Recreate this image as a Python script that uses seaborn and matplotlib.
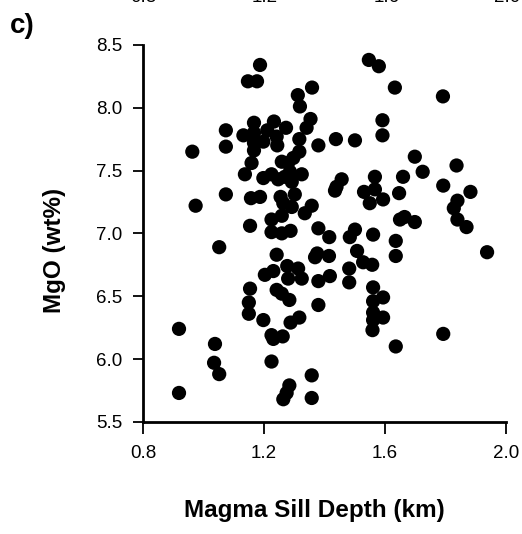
# Диаграмма рассеяния: MgO против глубины магматического силла (панель c)

import pandas as pd
import matplotlib
matplotlib.use("Agg")
import matplotlib.pyplot as plt
import seaborn as sns

# Данные
depth_km = [
    1.187, 1.147, 1.177, 1.547, 1.580, 1.633, 1.312, 1.319, 1.359, 1.792,
    1.233, 1.211, 1.242, 1.273, 1.198, 1.244, 1.354, 1.341, 1.317, 1.380,
    1.438, 1.501, 1.592, 1.592, 1.317, 1.297, 1.280, 1.259, 1.198, 1.225,
    1.247, 1.269, 1.286, 1.292, 1.325, 1.302, 1.255, 1.264, 1.292, 1.358,
    1.335, 1.225, 1.259, 1.225, 1.259, 1.288, 1.380, 1.416, 1.440, 1.457,
    1.435, 1.567, 1.531, 1.567, 1.550, 1.594, 1.501, 1.484, 1.561, 1.699,
    1.725, 1.660, 1.837, 1.647, 1.793, 1.883, 1.840, 1.828, 1.650, 1.665,
    1.699, 1.840, 1.870, 1.636, 1.052, 1.203, 1.154, 1.150, 1.150, 1.198,
    1.225, 1.225, 0.919, 1.038, 1.035, 1.052, 0.919, 1.242, 1.376, 1.369,
    1.415, 1.508, 1.528, 1.558, 1.482, 1.482, 1.231, 1.277, 1.280, 1.313,
    1.325, 1.380, 1.418, 1.242, 1.259, 1.284, 1.380, 1.288, 1.317, 1.231,
    1.262, 1.561, 1.561, 1.594, 1.561, 1.561, 1.559, 1.594, 1.358, 1.284,
    1.275, 1.264, 1.358, 1.636, 1.938, 1.793, 1.636, 1.074, 1.074, 0.963,
    1.132, 1.167, 1.167, 1.167, 1.167, 1.159, 1.137, 1.074, 1.157, 1.187,
    0.974, 1.154,
]
mgo_wt = [
    8.34, 8.21, 8.21, 8.38, 8.33, 8.16, 8.10, 8.01, 8.16, 8.09,
    7.89, 7.82, 7.77, 7.84, 7.73, 7.70, 7.91, 7.84, 7.75, 7.70,
    7.75, 7.74, 7.90, 7.78, 7.65, 7.60, 7.56, 7.57, 7.44, 7.47,
    7.43, 7.45, 7.49, 7.41, 7.47, 7.31, 7.29, 7.24, 7.21, 7.22,
    7.16, 7.11, 7.14, 7.01, 7.00, 7.02, 7.04, 6.97, 7.37, 7.43,
    7.34, 7.45, 7.33, 7.35, 7.24, 7.27, 7.03, 6.97, 6.99, 7.61,
    7.49, 7.45, 7.54, 7.32, 7.38, 7.33, 7.26, 7.20, 7.11, 7.13,
    7.09, 7.11, 7.05, 6.94, 6.89, 6.67, 6.56, 6.45, 6.36, 6.31,
    6.19, 5.98, 6.24, 6.12, 5.97, 5.88, 5.73, 6.83, 6.84, 6.81,
    6.82, 6.86, 6.77, 6.75, 6.72, 6.61, 6.70, 6.74, 6.64, 6.72,
    6.64, 6.62, 6.66, 6.55, 6.52, 6.47, 6.43, 6.29, 6.33, 6.16,
    6.18, 6.57, 6.46, 6.49, 6.37, 6.31, 6.23, 6.33, 5.87, 5.79,
    5.73, 5.68, 5.69, 6.82, 6.85, 6.20, 6.10, 7.82, 7.69, 7.65,
    7.78, 7.88, 7.80, 7.72, 7.66, 7.56, 7.47, 7.31, 7.28, 7.29,
    7.22, 7.06,
]
x_ticks = [0.8, 1.2, 1.6, 2.0]
y_ticks = [5.5, 6.0, 6.5, 7.0, 7.5, 8.0, 8.5]

df = pd.DataFrame({'depth': depth_km, 'mgo': mgo_wt})

sns.set_theme(style="ticks")
plt.rcParams['font.family'] = ['Liberation Sans', 'DejaVu Sans']
plt.rcParams['text.color'] = 'black'
plt.rcParams['axes.labelcolor'] = 'black'

fig = plt.figure(figsize=(5.22, 5.34), dpi=100)
ax = fig.add_axes([0.274, 0.210, 0.695, 0.706])

sns.scatterplot(data=df, x='depth', y='mgo', ax=ax, color='black',
                s=105, edgecolor='none', linewidth=0)

ax.set_xlim(0.8, 2.0)
ax.set_ylim(5.5, 8.5)
ax.set_xticks(x_ticks)
ax.set_yticks(y_ticks)
ax.set_xticklabels([f"{t:.1f}" for t in x_ticks], fontsize=13.5)
ax.set_yticklabels([f"{t:.1f}" for t in y_ticks], fontsize=13.5)
ax.tick_params(axis='x', length=8.5, width=1.3, pad=8, color='black', labelcolor='black')
ax.tick_params(axis='y', length=7, width=1.3, pad=8, color='black', labelcolor='black')

sns.despine(ax=ax)
for side in ['left', 'bottom']:
    ax.spines[side].set_linewidth(2)
    ax.spines[side].set_color('black')

ax.set_xlabel('Magma Sill Depth (km)', fontsize=17.5, fontweight='bold')
ax.set_ylabel('MgO (wt%)', fontsize=17.5, fontweight='bold')
ax.xaxis.set_label_coords(0.471, -0.205)
ax.yaxis.set_label_coords(-0.212, 0.456)

# Метка панели и обрезанные подписи от соседнего графика сверху
fig.text(0.018, 0.952, 'c)', fontsize=20, fontweight='bold', va='center', ha='left')
for t, px in zip(x_ticks, [143, 265, 387, 507]):
    fig.text(px / 522, 1.004, f"{t:.1f}", fontsize=13.5, ha='center', va='center', color='black')

plt.savefig('out.png', dpi=100)
